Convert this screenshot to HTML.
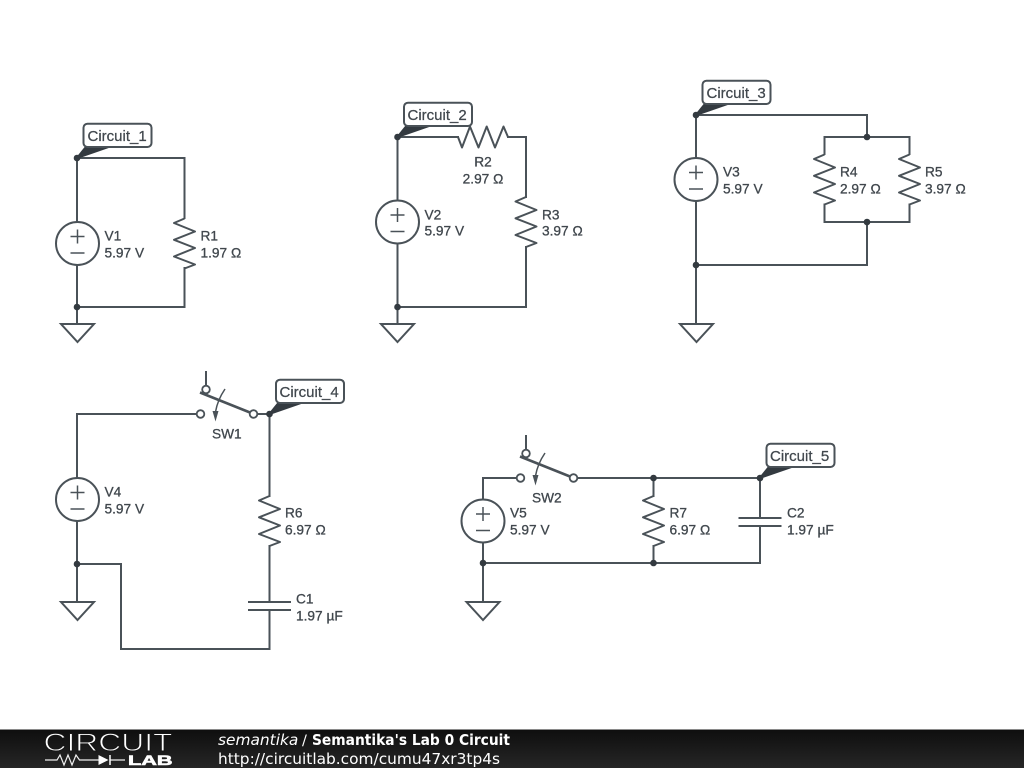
<!DOCTYPE html>
<html><head><meta charset="utf-8"><title>Semantika's Lab 0 Circuit</title>
<style>
html,body{margin:0;padding:0;width:1024px;height:768px;overflow:hidden;background:#fff}
svg{position:absolute;left:0;top:0;display:block}
.w{fill:none;stroke:#4a5258;stroke-width:2;stroke-linejoin:miter;stroke-linecap:square}
.t{font-family:"Liberation Sans",sans-serif;font-size:13.7px;fill:#40474d;stroke:#40474d;stroke-width:.3px;transform:translateY(.7px)}
.l{font-family:"Liberation Sans",sans-serif;font-size:15px;fill:#40474d;stroke:#40474d;stroke-width:.25px;transform:translateY(1px)}
.f{font-family:"DejaVu Sans",sans-serif;font-size:15.4px;fill:#fff}
</style></head><body>
<svg width="1024" height="768" viewBox="0 0 1024 768">
<defs>
<linearGradient id="bar" x1="0" y1="0" x2="0" y2="1"><stop offset="0" stop-color="#0e0e0e"/><stop offset="1" stop-color="#262626"/></linearGradient>
<g id="v"><circle r="21.5" fill="#fff" stroke="#4a5258" stroke-width="2"/><path d="M-7-7H7M0-14V0M-7 9.500H7" fill="none" stroke="#4a5258" stroke-width="1.500"/></g>
<g id="rv"><path class="w" style="stroke-linecap:butt;stroke-linejoin:round" d="M0-25L-10.500-20.500L10.500-12L-10.500-3.700L10.500 4.500L-10.500 13L10.500 21L0 25"/></g>
<g id="gnd"><path d="M-16.500 0H16.500L0 18Z" fill="#fff" stroke="#4a5258" stroke-width="2" stroke-linejoin="miter"/></g>
<g id="dot"><circle r="3.300" fill="#333a40"/></g>
<g id="tag"><path d="M-0.500 -1L8 -11.500H36L0 1Z" fill="#333a40"/><rect x="6.500" y="-34.300" width="68" height="23.300" rx="4" fill="#fff" stroke="#4a5258" stroke-width="2"/></g>
<g id="sw"><circle cx="0" cy="0" r="3.800" fill="#fff" stroke="#4a5258" stroke-width="1.800"/><circle cx="53" cy="0" r="3.800" fill="#fff" stroke="#4a5258" stroke-width="1.800"/><circle cx="5.500" cy="-24.500" r="3.800" fill="#fff" stroke="#4a5258" stroke-width="1.800"/><path d="M5.500-28.500V-43" fill="none" stroke="#4a5258" stroke-width="2"/><path d="M-0.500-21.500L49.500-1.500" fill="none" stroke="#4a5258" stroke-width="2.600"/><path d="M24.500-25Q17-14 15-2" fill="none" stroke="#4a5258" stroke-width="1.500"/><path d="M12-3L18-3L15 7.500Z" fill="#4a5258"/></g>
</defs>

<!-- Circuit 1 -->
<path class="w" d="M77 158H184.500V218M184.500 268V307H77M77 158V222M77 265V324"/>
<use href="#v" x="77.500" y="243.500"/><use href="#rv" x="184.500" y="243.500"/><use href="#gnd" x="77.500" y="324"/>
<use href="#dot" x="77" y="158"/><use href="#dot" x="77" y="307"/><use href="#tag" x="77" y="158"/>
<text class="l" x="87.500" y="140">Circuit_1</text>
<text class="t" x="104.500" y="240">V1</text><text class="t" x="104.500" y="257">5.97 V</text>
<text class="t" x="200.500" y="240">R1</text><text class="t" x="200.500" y="257">1.97 Ω</text>

<!-- Circuit 2 -->
<path class="w" d="M397.500 137H458M508 137H526V197M526 247V307H397.500M397.500 137V201M397.500 244V324"/>
<use href="#v" x="397.500" y="222"/><use href="#rv" x="526" y="222"/><use href="#rv" transform="translate(483,137) rotate(90)"/><use href="#gnd" x="397.500" y="324"/>
<use href="#dot" x="397.500" y="137"/><use href="#dot" x="397.500" y="307"/><use href="#tag" x="397.500" y="137"/>
<text class="l" x="407.500" y="119">Circuit_2</text>
<text class="t" x="483" y="166" text-anchor="middle">R2</text><text class="t" x="483" y="183" text-anchor="middle">2.97 Ω</text>
<text class="t" x="424.500" y="219">V2</text><text class="t" x="424.500" y="235">5.97 V</text>
<text class="t" x="542" y="219">R3</text><text class="t" x="542" y="235">3.97 Ω</text>

<!-- Circuit 3 -->
<path class="w" d="M696 115H867V137M824.500 154V137H909.500V154M824.500 204.500V222H909.500V204.500M867 222V265H696M696 115V158M696 201V324"/>
<use href="#v" x="696" y="179.500"/><use href="#rv" x="824.500" y="179.500"/><use href="#rv" x="909.500" y="179.500"/><use href="#gnd" x="696.500" y="324"/>
<use href="#dot" x="696" y="115"/><use href="#dot" x="867" y="137"/><use href="#dot" x="867" y="222"/><use href="#dot" x="696" y="265"/><use href="#tag" x="696" y="115"/>
<text class="l" x="706.500" y="97">Circuit_3</text>
<text class="t" x="723" y="176">V3</text><text class="t" x="723" y="193">5.97 V</text>
<text class="t" x="840" y="176">R4</text><text class="t" x="840" y="193">2.97 Ω</text>
<text class="t" x="925" y="176">R5</text><text class="t" x="925" y="193">3.97 Ω</text>

<!-- Circuit 4 -->
<path class="w" d="M77 478V414H196M258 414H269.500V496M269.500 546V602M269.500 610V649H121V564H77M77 521V602"/>
<path class="w" style="stroke-linecap:butt" d="M248 602H291M248 610H291"/>
<use href="#v" x="77.500" y="499.500"/><use href="#rv" x="269.500" y="521"/><use href="#gnd" x="77.500" y="602"/>
<use href="#sw" x="200.500" y="414"/>
<use href="#dot" x="269.500" y="414"/><use href="#dot" x="77" y="564"/><use href="#tag" x="269.500" y="414"/>
<text class="l" x="279.500" y="396">Circuit_4</text>
<text class="t" x="212" y="438">SW1</text>
<text class="t" x="104.500" y="496">V4</text><text class="t" x="104.500" y="513">5.97 V</text>
<text class="t" x="285" y="517">R6</text><text class="t" x="285" y="534">6.97 Ω</text>
<text class="t" x="296" y="603">C1</text><text class="t" x="296" y="620">1.97 µF</text>

<!-- Circuit 5 -->
<path class="w" d="M483 500V478H516M578 478H760V518M760 526V563H483M653.500 478V496M653.500 546V563M483 542V602"/>
<path class="w" style="stroke-linecap:butt" d="M738.500 518H781.500M738.500 526H781.500"/>
<use href="#v" x="483" y="521"/><use href="#rv" x="653.500" y="521"/><use href="#gnd" x="483" y="602"/>
<use href="#sw" x="520.500" y="478"/>
<use href="#dot" x="653.500" y="478"/><use href="#dot" x="653.500" y="563"/><use href="#dot" x="483" y="563"/><use href="#dot" x="760" y="478"/><use href="#tag" x="760" y="478"/>
<text class="l" x="770" y="460">Circuit_5</text>
<text class="t" x="532" y="502">SW2</text>
<text class="t" x="510" y="517">V5</text><text class="t" x="510" y="534">5.97 V</text>
<text class="t" x="669.500" y="517">R7</text><text class="t" x="669.500" y="534">6.97 Ω</text>
<text class="t" x="787" y="517">C2</text><text class="t" x="787" y="534">1.97 µF</text>

<!-- Footer -->
<rect x="0" y="729" width="1024" height="39" fill="url(#bar)"/>
<rect x="0" y="729" width="1024" height="1" fill="#8a8a8a"/>
<text x="43.500" y="751" font-family="Liberation Sans,sans-serif" font-size="25" textLength="129" lengthAdjust="spacingAndGlyphs" fill="#fff" stroke="#161616" stroke-width="0.900" style="paint-order:fill stroke">CIRCUIT</text>
<path d="M45 760H57L60 755L64 765L68 755L72 765L76 755L79.500 760H99M110 760H125" fill="none" stroke="#f0f0f0" stroke-width="1.200"/>
<path d="M98.500 755V765L108.500 760Z" fill="#fff"/><path d="M110 755V765" stroke="#fff" stroke-width="1.500"/>
<text x="128" y="765" font-family="Liberation Sans,sans-serif" font-size="14" font-weight="bold" textLength="44.500" lengthAdjust="spacingAndGlyphs" fill="#fff" stroke="#fff" stroke-width=".6">LAB</text>
<text class="f" x="218" y="745" font-style="italic">semantika</text>
<text class="f" x="302" y="745" style="font-size:14.500px">/</text>
<text class="f" x="312" y="745" font-weight="bold" textLength="198" lengthAdjust="spacingAndGlyphs">Semantika's Lab 0 Circuit</text>
<text class="f" x="218" y="764" textLength="282" lengthAdjust="spacingAndGlyphs">http://circuitlab.com/cumu47xr3tp4s</text>
</svg>
</body></html>
